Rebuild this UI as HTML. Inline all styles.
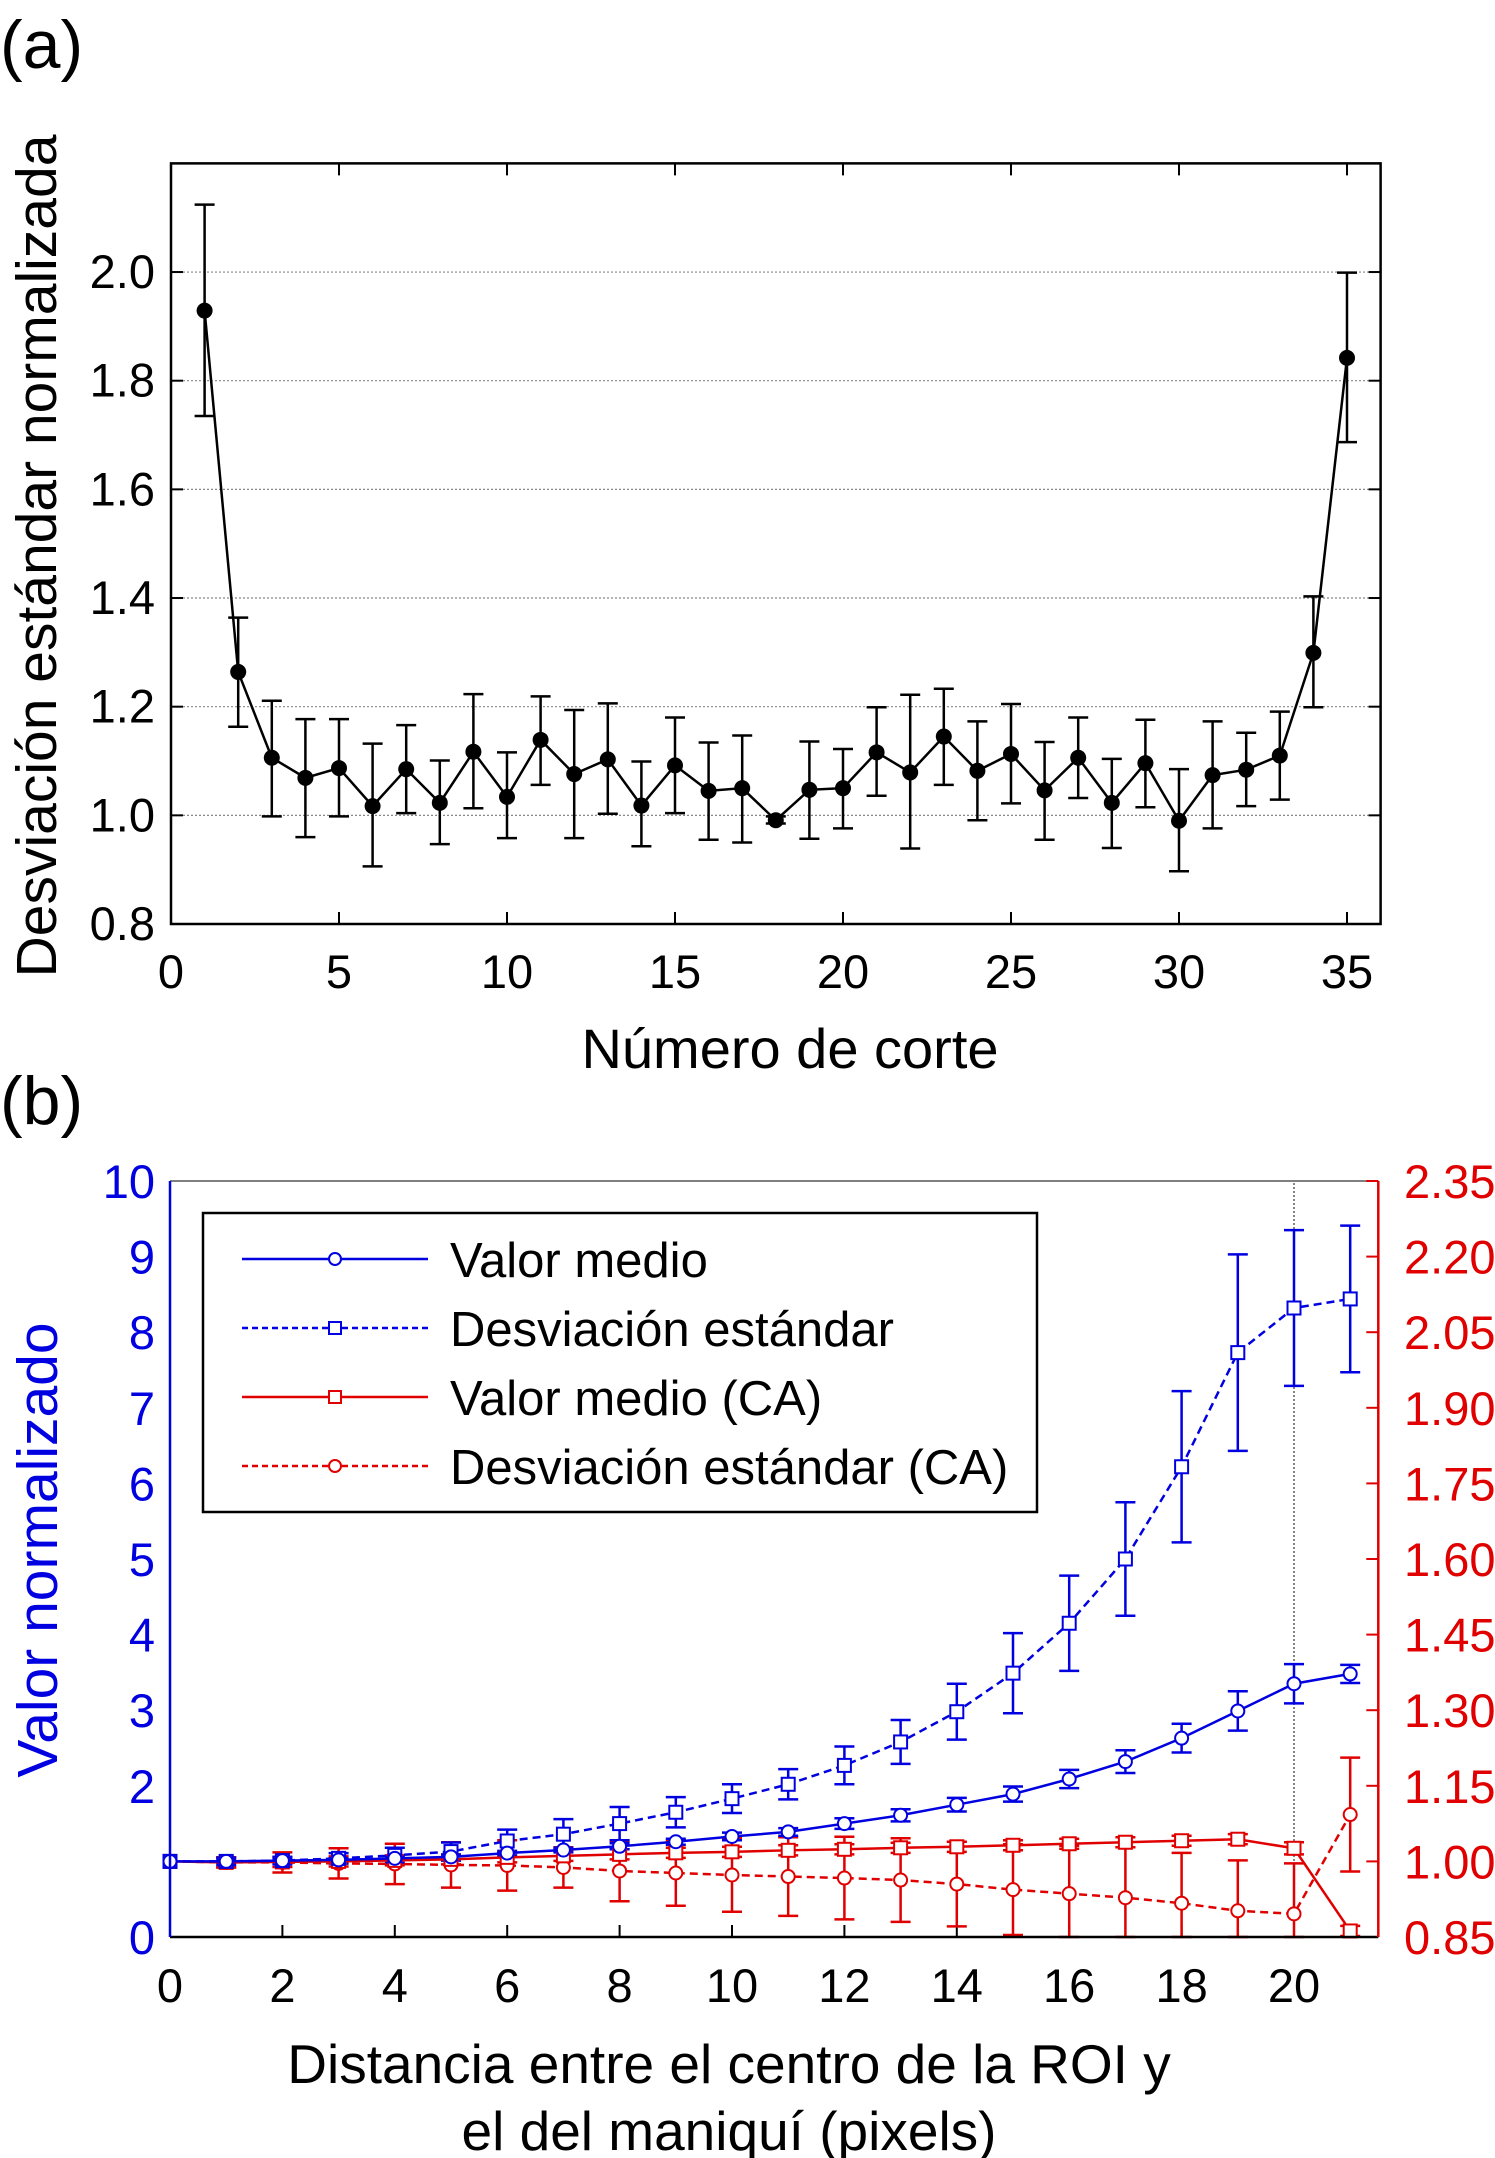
<!DOCTYPE html>
<html><head><meta charset="utf-8"><style>
html,body{margin:0;padding:0;background:#fff}
svg{display:block;font-family:"Liberation Sans",Arial,sans-serif}
</style></head><body>
<svg id="svg" width="1495" height="2158" viewBox="0 0 1495 2158" xmlns="http://www.w3.org/2000/svg">
<text x="0" y="68" font-size="68">(a)</text>
<text x="0" y="1124" font-size="68">(b)</text>
<g id="ga"></g>
<g id="gb"></g>
<text x="790" y="1068" font-size="56" text-anchor="middle">Número de corte</text>
<text transform="translate(56,556) rotate(-90)" font-size="57" text-anchor="middle">Desviación estándar normalizada</text>
<text transform="translate(57,1550) rotate(-90)" font-size="57" text-anchor="middle" fill="#0000e0">Valor normalizado</text>
<text x="729" y="2083" font-size="55" text-anchor="middle">Distancia entre el centro de la ROI y</text>
<text x="729" y="2150" font-size="55" text-anchor="middle">el del maniquí (pixels)</text>
</svg>
<script>
// ---------- Chart (a) data ----------
const aSlices = [1,2,3,4,5,6,7,8,9,10,11,12,13,14,15,16,17,18,19,20,21,22,23,24,25,26,27,28,29,30,31,32,33,34,35];
const aValues = [1.929,1.264,1.106,1.069,1.087,1.017,1.085,1.023,1.117,1.034,1.139,1.076,1.103,1.018,1.092,1.045,1.050,0.991,1.047,1.050,1.116,1.079,1.145,1.082,1.113,1.046,1.106,1.023,1.096,0.990,1.074,1.084,1.110,1.299,1.842];
const aUpper = [2.124,1.364,1.211,1.177,1.177,1.132,1.166,1.101,1.223,1.116,1.219,1.194,1.206,1.099,1.180,1.134,1.147,0.998,1.136,1.122,1.199,1.222,1.233,1.173,1.205,1.135,1.180,1.104,1.176,1.085,1.173,1.152,1.191,1.403,1.999];
const aLower = [1.735,1.163,0.998,0.960,0.998,0.906,1.004,0.947,1.013,0.958,1.056,0.958,1.003,0.943,1.004,0.955,0.950,0.985,0.957,0.976,1.036,0.939,1.056,0.991,1.022,0.955,1.032,0.940,1.015,0.897,0.976,1.017,1.029,1.199,1.687];
const aXTicks = [0,5,10,15,20,25,30,35];
const aYTicks = [0.8,1.0,1.2,1.4,1.6,1.8,2.0];

// ---------- Chart (b) data ----------
const bX = [0,1,2,3,4,5,6,7,8,9,10,11,12,13,14,15,16,17,18,19,20,21];
const blueMean = [1.0,1.0,1.01,1.02,1.04,1.06,1.11,1.15,1.2,1.26,1.33,1.39,1.5,1.61,1.75,1.89,2.09,2.32,2.63,2.99,3.35,3.48];
const blueMeanErr = [0,0.02,0.02,0.02,0.02,0.03,0.03,0.03,0.04,0.04,0.05,0.05,0.07,0.08,0.09,0.1,0.12,0.15,0.19,0.26,0.26,0.12];
const blueStd = [1.0,1.0,1.01,1.04,1.08,1.13,1.27,1.36,1.5,1.65,1.83,2.02,2.27,2.58,2.98,3.49,4.15,5.0,6.22,7.73,8.32,8.44];
const blueStdErr = [0,0.05,0.05,0.07,0.1,0.12,0.15,0.2,0.22,0.2,0.19,0.2,0.25,0.29,0.37,0.53,0.63,0.75,1.0,1.3,1.03,0.97];
const redMean = [1.0,0.998,0.999,1.0,1.002,1.004,1.008,1.011,1.014,1.017,1.019,1.022,1.024,1.027,1.029,1.032,1.035,1.038,1.041,1.044,1.026,0.862];
const redMeanErr = [0,0.01,0.01,0.01,0.01,0.01,0.01,0.01,0.01,0.01,0.01,0.01,0.01,0.01,0.01,0.01,0.01,0.01,0.01,0.01,0.012,0.01];
const redStd = [1.0,0.998,0.998,0.996,0.995,0.993,0.992,0.988,0.981,0.977,0.973,0.970,0.967,0.963,0.955,0.944,0.936,0.928,0.917,0.902,0.896,1.093];
const redStdErr = [0,0.01,0.02,0.03,0.04,0.045,0.05,0.04,0.06,0.065,0.073,0.078,0.082,0.083,0.084,0.09,0.095,0.1,0.1,0.1,0.1,0.113];
const bXTicks = [0,2,4,6,8,10,12,14,16,18,20];
const bLeftTicks = [0,2,3,4,5,6,7,8,9,10];
const bRightTicks = ['0.85','1.00','1.15','1.30','1.45','1.60','1.75','1.90','2.05','2.20','2.35'];

const NS = "http://www.w3.org/2000/svg";
function mk(parent, tag, attrs, name) {
  const e = document.createElementNS(NS, tag);
  for (const k in attrs) e.setAttribute(k, attrs[k]);
  
  
  parent.appendChild(e);
  return e;
}

// ----- chart a -----
const ga = document.getElementById('ga');
const xa = v => 171 + v * 33.6;
const ya = v => 924 - (v - 0.8) * 543.3;
aYTicks.forEach(t => {
  if (t > 0.8) mk(ga, 'line', {x1: xa(0), x2: xa(36), y1: ya(t), y2: ya(t), stroke: '#888', 'stroke-width': 1.2, 'stroke-dasharray': '2,2'}, 'gridline');
  mk(ga, 'line', {x1: xa(0), x2: xa(0) + 12, y1: ya(t), y2: ya(t), stroke: '#000', 'stroke-width': 2}, 'y-tick');
  mk(ga, 'line', {x1: xa(36), x2: xa(36) - 12, y1: ya(t), y2: ya(t), stroke: '#000', 'stroke-width': 2}, 'y-tick-right');
  const tx = mk(ga, 'text', {x: 155, y: ya(t) + 16, 'font-size': 47, 'text-anchor': 'end'}, 'y-tick-label');
  tx.textContent = t.toFixed(1);
});
aXTicks.forEach(t => {
  mk(ga, 'line', {x1: xa(t), x2: xa(t), y1: ya(0.8), y2: ya(0.8) - 12, stroke: '#000', 'stroke-width': 2}, 'x-tick');
  mk(ga, 'line', {x1: xa(t), x2: xa(t), y1: ya(2.2), y2: ya(2.2) + 12, stroke: '#000', 'stroke-width': 2}, 'x-tick-top');
  const tx = mk(ga, 'text', {x: xa(t), y: 988, 'font-size': 47, 'text-anchor': 'middle'}, 'x-tick-label');
  tx.textContent = t;
});
mk(ga, 'rect', {x: xa(0), y: ya(2.2), width: xa(36) - xa(0), height: ya(0.8) - ya(2.2), fill: 'none', stroke: '#000', 'stroke-width': 2.5}, 'plot-frame-a');
aSlices.forEach((s, i) => {
  const x = xa(s);
  mk(ga, 'path', {d: `M${x},${ya(aUpper[i])}V${ya(aLower[i])}M${x-10},${ya(aUpper[i])}h20M${x-10},${ya(aLower[i])}h20`, stroke: '#000', 'stroke-width': 2.5, fill: 'none'}, 'error-bar');
});
mk(ga, 'polyline', {points: aSlices.map((s, i) => xa(s) + ',' + ya(aValues[i])).join(' '), fill: 'none', stroke: '#000', 'stroke-width': 2.5}, 'series-line');
aSlices.forEach((s, i) => {
  mk(ga, 'circle', {cx: xa(s), cy: ya(aValues[i]), r: 8, fill: '#000'}, 'data-point');
});

// ----- chart b -----
const gb = document.getElementById('gb');
const xb = v => 170 + v * 56.2;
const yb = v => 1937 - v * 75.6;
const yr = r => yb((r - 0.85) / 0.15);
const BLUE = '#0000e0', RED = '#e00000';
mk(gb, 'line', {x1: xb(0), x2: xb(21.5), y1: yb(10), y2: yb(10), stroke: '#000', 'stroke-width': 1}, 'top-axis');
mk(gb, 'line', {x1: xb(20), x2: xb(20), y1: yb(0), y2: yb(10), stroke: '#333', 'stroke-width': 1.2, 'stroke-dasharray': '2,2'}, 'reference-line');
bXTicks.forEach(t => {
  mk(gb, 'line', {x1: xb(t), x2: xb(t), y1: yb(0), y2: yb(0) - 12, stroke: '#000', 'stroke-width': 2}, 'x-tick');
  const tx = mk(gb, 'text', {x: xb(t), y: 2002, 'font-size': 47, 'text-anchor': 'middle'}, 'x-tick-label');
  tx.textContent = t;
});
bLeftTicks.forEach(t => {
  const tx = mk(gb, 'text', {x: 155, y: yb(t) + 17, 'font-size': 47, 'text-anchor': 'end', fill: BLUE}, 'left-tick-label');
  tx.textContent = t;
});
bRightTicks.forEach(t => {
  const v = parseFloat(t);
  mk(gb, 'line', {x1: xb(21.5), x2: xb(21.5) - 12, y1: yr(v), y2: yr(v), stroke: RED, 'stroke-width': 2}, 'right-tick');
  const tx = mk(gb, 'text', {x: 1404, y: yr(v) + 17, 'font-size': 47, fill: RED}, 'right-tick-label');
  tx.textContent = t;
});
function errbars(vals, errs, conv, color, name) {
  bX.forEach((x, i) => {
    if (errs[i] <= 0) return;
    let top = Math.max(conv(vals[i] + errs[i]), yb(10)), bot = Math.min(conv(vals[i] - errs[i]), yb(0));
    const px = xb(x);
    mk(gb, 'path', {d: `M${px},${top}V${bot}M${px-10},${top}h20M${px-10},${bot}h20`, stroke: color, 'stroke-width': 2.5, fill: 'none'}, name);
  });
}
function series(vals, conv, color, dash, marker, name) {
  const attrs = {points: bX.map((x, i) => xb(x) + ',' + conv(vals[i])).join(' '), fill: 'none', stroke: color, 'stroke-width': 2.5};
  if (dash) attrs['stroke-dasharray'] = '8,5';
  mk(gb, 'polyline', attrs, name + '-line');
  bX.forEach((x, i) => {
    const px = xb(x), py = conv(vals[i]);
    if (marker === 'c') mk(gb, 'circle', {cx: px, cy: py, r: 6.5, fill: '#fff', stroke: color, 'stroke-width': 2}, name + '-marker');
    else mk(gb, 'rect', {x: px - 6.5, y: py - 6.5, width: 13, height: 13, fill: '#fff', stroke: color, 'stroke-width': 2}, name + '-marker');
  });
}
const idL = v => yb(v);
errbars(redStd, redStdErr, yr, RED, 'red-std-error-bar');
errbars(redMean, redMeanErr, yr, RED, 'red-mean-error-bar');
errbars(blueStd, blueStdErr, idL, BLUE, 'blue-std-error-bar');
errbars(blueMean, blueMeanErr, idL, BLUE, 'blue-mean-error-bar');
series(redStd, yr, RED, true, 'c', 'red-std');
series(redMean, yr, RED, false, 's', 'red-mean');
series(blueStd, idL, BLUE, true, 's', 'blue-std');
series(blueMean, idL, BLUE, false, 'c', 'blue-mean');
mk(gb, 'line', {x1: xb(0), x2: xb(21.5), y1: yb(0), y2: yb(0), stroke: '#000', 'stroke-width': 2.5}, 'x-axis');
mk(gb, 'line', {x1: xb(0), x2: xb(0), y1: yb(0), y2: yb(10), stroke: BLUE, 'stroke-width': 2.5}, 'left-axis');
mk(gb, 'line', {x1: xb(21.5), x2: xb(21.5), y1: yb(0), y2: yb(10), stroke: RED, 'stroke-width': 2.5}, 'right-axis');

// legend
const lg = mk(gb, 'g', {}, 'legend');
mk(lg, 'rect', {x: 203, y: 1213, width: 834, height: 299, fill: '#fff', stroke: '#000', 'stroke-width': 2.5}, 'legend-box');
const legLabels = ['Valor medio', 'Desviación estándar', 'Valor medio (CA)', 'Desviación estándar (CA)'];
const legColors = [BLUE, BLUE, RED, RED];
const legDash = [false, true, false, true];
const legMarker = ['c', 's', 's', 'c'];
legLabels.forEach((lab, i) => {
  const y = 1259 + i * 69;
  const la = {x1: 242, x2: 428, y1: y, y2: y, stroke: legColors[i], 'stroke-width': 2.5};
  if (legDash[i]) la['stroke-dasharray'] = '6,4';
  mk(lg, 'line', la, 'legend-line');
  if (legMarker[i] === 'c') mk(lg, 'circle', {cx: 335, cy: y, r: 6, fill: '#fff', stroke: legColors[i], 'stroke-width': 2}, 'legend-marker');
  else mk(lg, 'rect', {x: 329, y: y - 6, width: 12, height: 12, fill: '#fff', stroke: legColors[i], 'stroke-width': 2}, 'legend-marker');
  const tx = mk(lg, 'text', {x: 450, y: y + 18, 'font-size': 49}, 'legend-label');
  tx.textContent = lab;
});
</script>
</body></html>
